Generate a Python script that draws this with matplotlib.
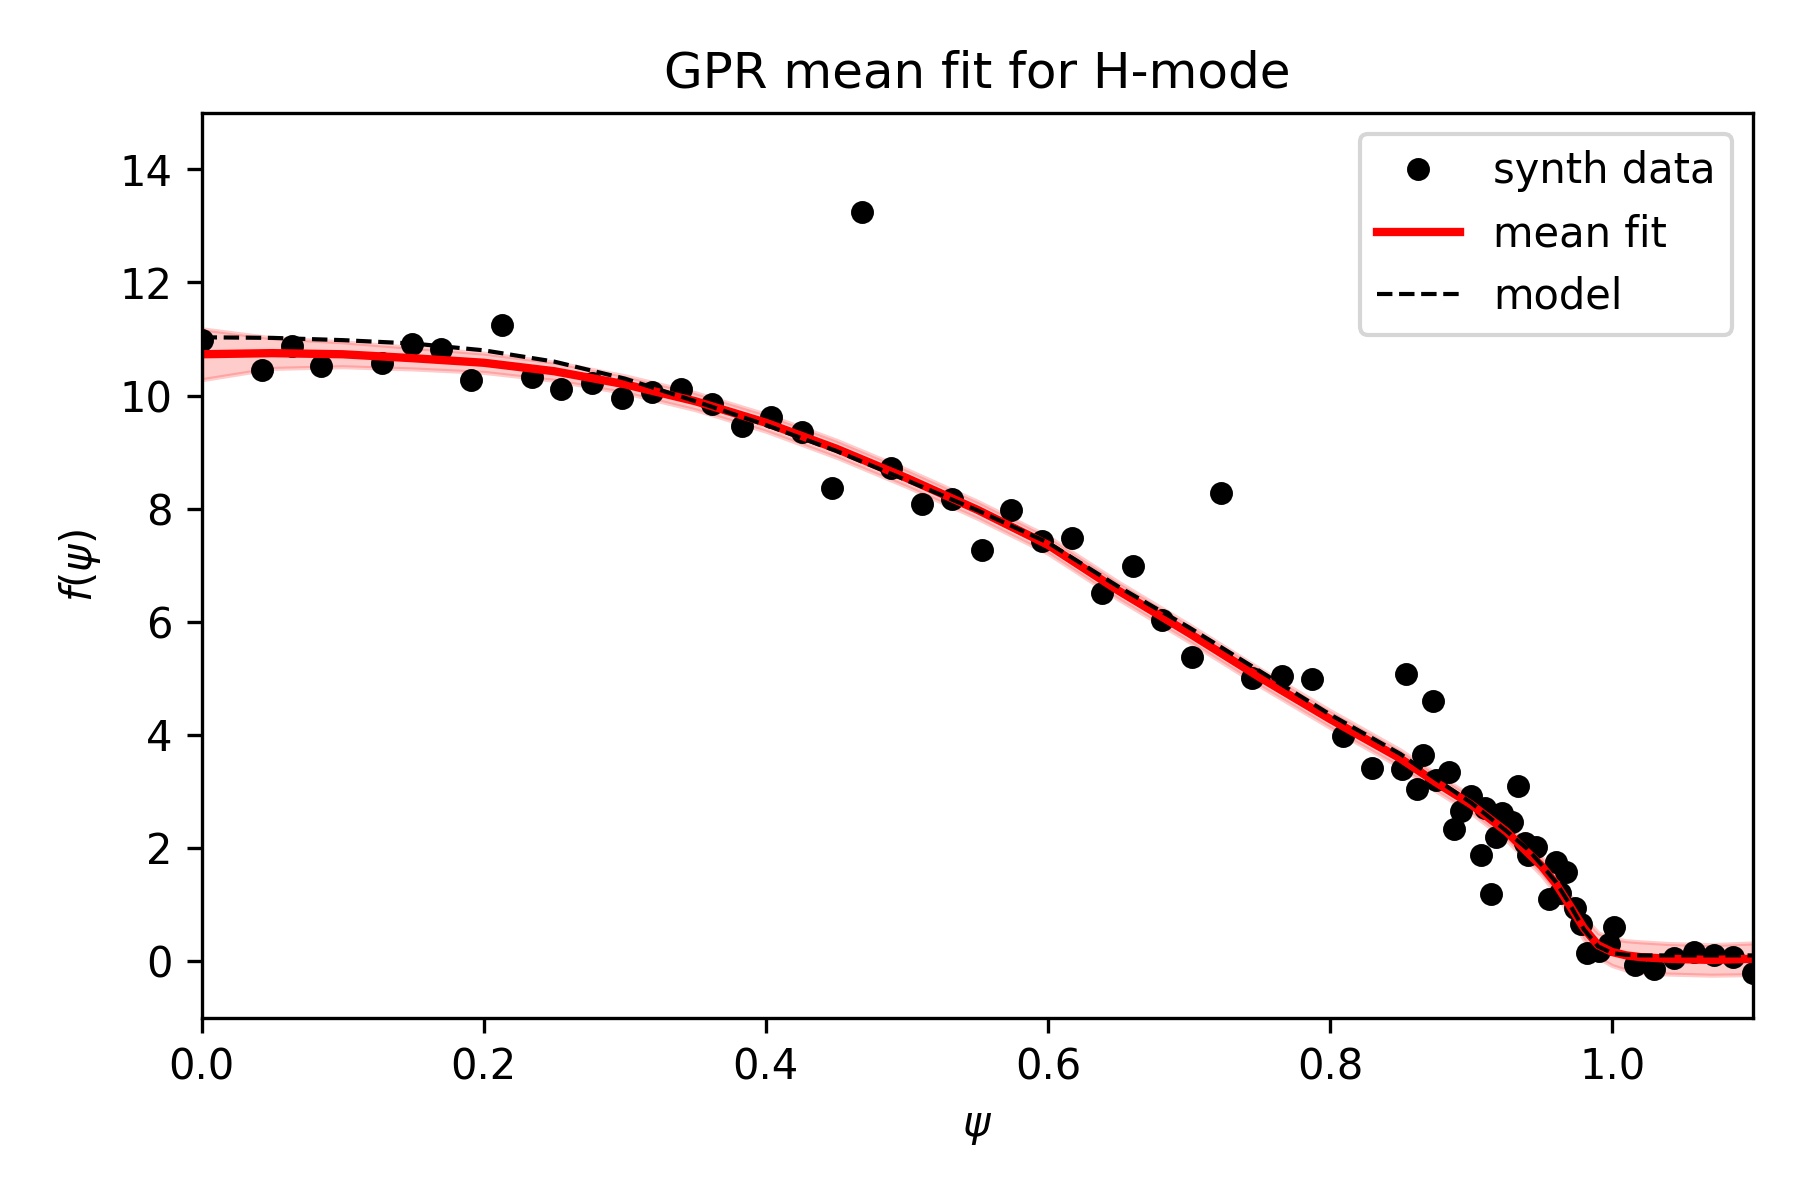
import numpy as np
import matplotlib
matplotlib.use("Agg")
import matplotlib.pyplot as plt

psi_data = [0.000, 0.043, 0.064, 0.085, 0.128, 0.149, 0.170, 0.191, 0.213, 0.234,
            0.255, 0.277, 0.298, 0.319, 0.340, 0.362, 0.383, 0.404, 0.426, 0.447,
            0.468, 0.489, 0.511, 0.532, 0.553, 0.574, 0.596, 0.617, 0.638, 0.660,
            0.681, 0.702, 0.723, 0.745, 0.766, 0.787, 0.809, 0.830, 0.851,
            0.854, 0.862, 0.866, 0.873, 0.875, 0.884, 0.888, 0.893, 0.900, 0.907,
            0.910, 0.914, 0.918, 0.922, 0.929, 0.933, 0.938, 0.940, 0.946, 0.955,
            0.960, 0.963, 0.967, 0.974, 0.978, 0.982, 0.991, 0.998, 1.001,
            1.016, 1.030, 1.044, 1.058, 1.072, 1.086, 1.100]
f_data = [10.98, 10.45, 10.87, 10.52, 10.57, 10.91, 10.83, 10.27, 11.24, 10.32,
          10.12, 10.22, 9.95, 10.06, 10.12, 9.85, 9.46, 9.62, 9.35, 8.36,
          13.24, 8.72, 8.09, 8.17, 7.26, 7.97, 7.43, 7.48, 6.50, 6.98,
          6.03, 5.37, 8.28, 5.00, 5.04, 4.98, 3.98, 3.41, 3.39,
          5.07, 3.05, 3.64, 4.60, 3.20, 3.34, 2.33, 2.66, 2.92, 1.87,
          2.70, 1.18, 2.19, 2.62, 2.46, 3.09, 2.09, 1.87, 2.02, 1.10,
          1.75, 1.20, 1.58, 0.94, 0.65, 0.14, 0.17, 0.31, 0.61,
          -0.07, -0.14, 0.06, 0.16, 0.11, 0.08, -0.22]

# GPR mean / std and model profile on a coarse grid
psi_grid = [0.0, 0.05, 0.10, 0.15, 0.20, 0.25, 0.30, 0.35, 0.40, 0.45,
            0.50, 0.55, 0.60, 0.65, 0.70, 0.75, 0.80, 0.85, 0.875, 0.90,
            0.925, 0.94, 0.95, 0.96, 0.97, 0.98, 0.99, 1.00, 1.01, 1.02,
            1.04, 1.07, 1.10]
fit_mean = [10.73, 10.75, 10.73, 10.66, 10.58, 10.43, 10.20, 9.90, 9.52, 9.06,
            8.54, 7.98, 7.36, 6.55, 5.80, 5.02, 4.28, 3.58, 3.16, 2.77,
            2.29, 1.92, 1.68, 1.37, 0.98, 0.58, 0.28, 0.16, 0.10, 0.07,
            0.04, 0.02, 0.04]
fit_std = [0.45, 0.27, 0.22, 0.19, 0.17, 0.16, 0.15, 0.15, 0.15, 0.15,
           0.15, 0.15, 0.15, 0.15, 0.15, 0.15, 0.15, 0.15, 0.15, 0.15,
           0.15, 0.15, 0.16, 0.17, 0.18, 0.20, 0.22, 0.24, 0.26, 0.27,
           0.27, 0.27, 0.28]
model = [11.03, 11.02, 10.98, 10.92, 10.80, 10.60, 10.30, 9.90, 9.48, 9.02,
         8.50, 7.97, 7.40, 6.62, 5.90, 5.13, 4.36, 3.66, 3.22, 2.80,
         2.30, 1.98, 1.70, 1.40, 1.00, 0.56, 0.26, 0.14, 0.11, 0.10,
         0.10, 0.10, 0.10]


def main():
    x = np.array(psi_grid)
    mu = np.array(fit_mean)
    sd = np.array(fit_std)

    fig, ax = plt.subplots(figsize=(6, 4), dpi=300)
    fig.subplots_adjust(left=0.112, right=0.974, bottom=0.152, top=0.906)

    ax.plot(psi_data, f_data, "ko", markersize=4.5, label="synth data")
    ax.plot(x, mu, "r-", lw=2, label="mean fit")
    ax.fill_between(x, mu - sd, mu + sd, color="r", alpha=0.2)
    ax.plot(x, model, "k--", lw=1, label="model")

    ax.set_xlim(0, 1.1)
    ax.set_ylim(-1, 15)
    ax.set_xlabel(r"$\psi$")
    ax.set_ylabel(r"$f(\psi)$")
    ax.set_title("GPR mean fit for H-mode")
    ax.legend(loc="upper right")

    fig.savefig("out.png", dpi=300)
    plt.close(fig)


if __name__ == "__main__":
    main()
